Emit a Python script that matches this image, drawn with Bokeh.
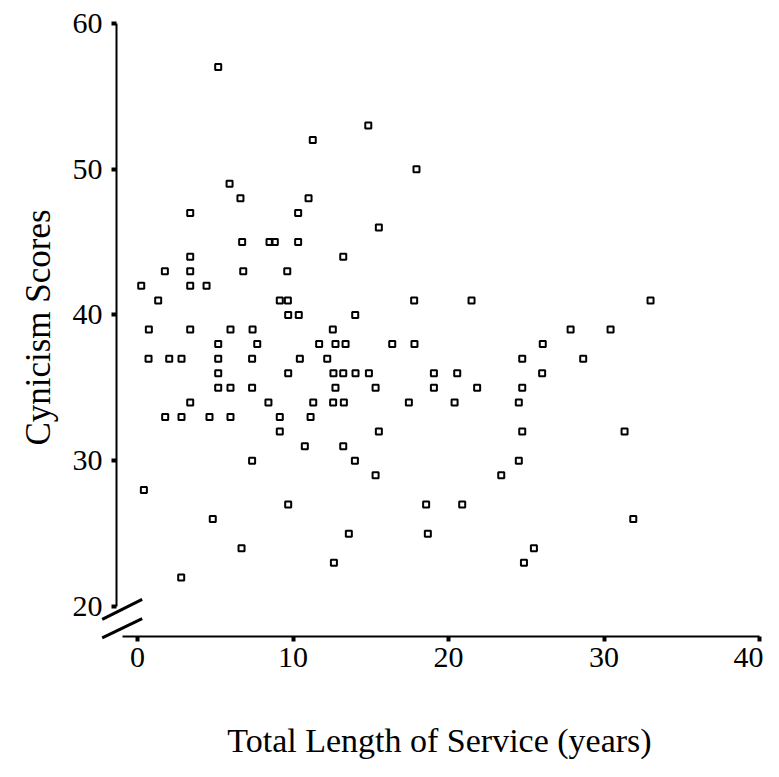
from bokeh.plotting import figure
from bokeh.models import Range1d, FixedTicker
from bokeh.embed import file_html
from bokeh.resources import INLINE

# Data (years of service, cynicism score)
service_years = [
    5.19, 14.84, 11.27, 17.94, 5.92, 6.62, 11.0, 3.39, 10.33, 15.52,
    6.73, 8.49, 8.83, 10.33, 3.39, 13.23,
    1.76, 3.39, 6.8, 9.63,
    0.24, 3.39, 4.44,
    1.33, 9.15, 9.67, 17.79, 21.48, 32.99,
    9.69, 10.37, 14.0,
    0.73, 3.39, 5.98, 7.4, 12.56, 27.85, 30.42,
    5.19, 7.7, 11.68, 12.73, 13.38, 16.38, 17.81, 26.06,
    0.71, 2.04, 2.83, 5.19, 7.37, 10.44, 12.2, 24.74, 28.66,
    5.19, 9.69, 12.6, 13.23, 14.02, 14.88, 19.06, 20.56, 26.02,
    5.19, 5.98, 7.37, 12.73, 15.31, 19.06, 21.84, 24.74,
    3.39, 8.42, 11.3, 12.58, 13.27, 17.45, 20.39, 24.52,
    1.78, 2.83, 4.63, 5.98, 9.15, 11.13,
    9.15, 15.52, 24.74, 31.32,
    10.76, 13.23,
    7.37, 13.98, 24.52,
    15.31, 23.39,
    0.41,
    9.69, 18.56, 20.88,
    4.84, 31.88,
    13.59, 18.67,
    6.69, 25.49,
    12.63, 24.85,
    2.81,
]
cynicism_scores = [
    57, 53, 52, 50, 49, 48, 48, 47, 47, 46,
    45, 45, 45, 45, 44, 44,
    43, 43, 43, 43,
    42, 42, 42,
    41, 41, 41, 41, 41, 41,
    40, 40, 40,
    39, 39, 39, 39, 39, 39, 39,
    38, 38, 38, 38, 38, 38, 38, 38,
    37, 37, 37, 37, 37, 37, 37, 37, 37,
    36, 36, 36, 36, 36, 36, 36, 36, 36,
    35, 35, 35, 35, 35, 35, 35, 35,
    34, 34, 34, 34, 34, 34, 34, 34,
    33, 33, 33, 33, 33, 33,
    32, 32, 32, 32,
    31, 31,
    30, 30, 30,
    29, 29,
    28,
    27, 27, 27,
    26, 26,
    25, 25,
    24, 24,
    23, 23,
    22,
]

x_ticks = [0, 10, 20, 30, 40]
y_ticks = [20, 30, 40, 50, 60]
x_label = "Total Length of Service (years)"
y_label = "Cynicism Scores"

# axis-break decoration (two slashes at the origin corner), in data units
break_x0 = [-2.27, -2.27]
break_x1 = [0.30, 0.30]
break_y0 = [19.13, 17.86]
break_y1 = [20.50, 19.18]

FONT = "Liberation Serif"

p = figure(width=763, height=761, output_backend="svg", toolbar_location=None,
           x_range=Range1d(-1.35, 40.19), y_range=Range1d(17.95, 60.33),
           min_border_left=116, min_border_right=1,
           min_border_top=18, min_border_bottom=123)
p.outline_line_color = None
p.grid.visible = False
p.background_fill_color = "white"
p.border_fill_color = "white"

p.scatter(service_years, cynicism_scores, marker="square", size=6,
          line_width=2, line_color="black", fill_color=None)

p.segment(break_x0, break_y0, break_x1, break_y1, line_width=3,
          line_color="black", level="overlay")

for ax, ticks in ((p.xaxis[0], x_ticks), (p.yaxis[0], y_ticks)):
    ax.ticker = FixedTicker(ticks=ticks)
    ax.minor_tick_line_color = None
    ax.axis_line_width = 2
    ax.axis_line_color = "black"
    ax.major_tick_line_width = 4
    ax.major_tick_line_color = "black"
    ax.major_tick_in = 0
    ax.major_tick_out = 5
    ax.major_label_text_font = FONT
    ax.major_label_text_font_size = "30px"
    ax.major_label_text_color = "black"
    ax.axis_label_text_font = FONT
    ax.axis_label_text_font_style = "normal"
    ax.axis_label_text_color = "black"

p.xaxis.axis_label_text_font_size = "34px"
p.yaxis.axis_label_text_font_size = "35px"
p.xaxis.bounds = (-0.96, 40)
p.yaxis.bounds = (20, 60)
p.xaxis.axis_label = x_label
p.yaxis.axis_label = y_label
p.xaxis.major_label_standoff = 6
p.yaxis.major_label_standoff = 9
p.xaxis.axis_label_standoff = 52
p.yaxis.axis_label_standoff = 12

open("out.html", "w").write(file_html(p, INLINE))
